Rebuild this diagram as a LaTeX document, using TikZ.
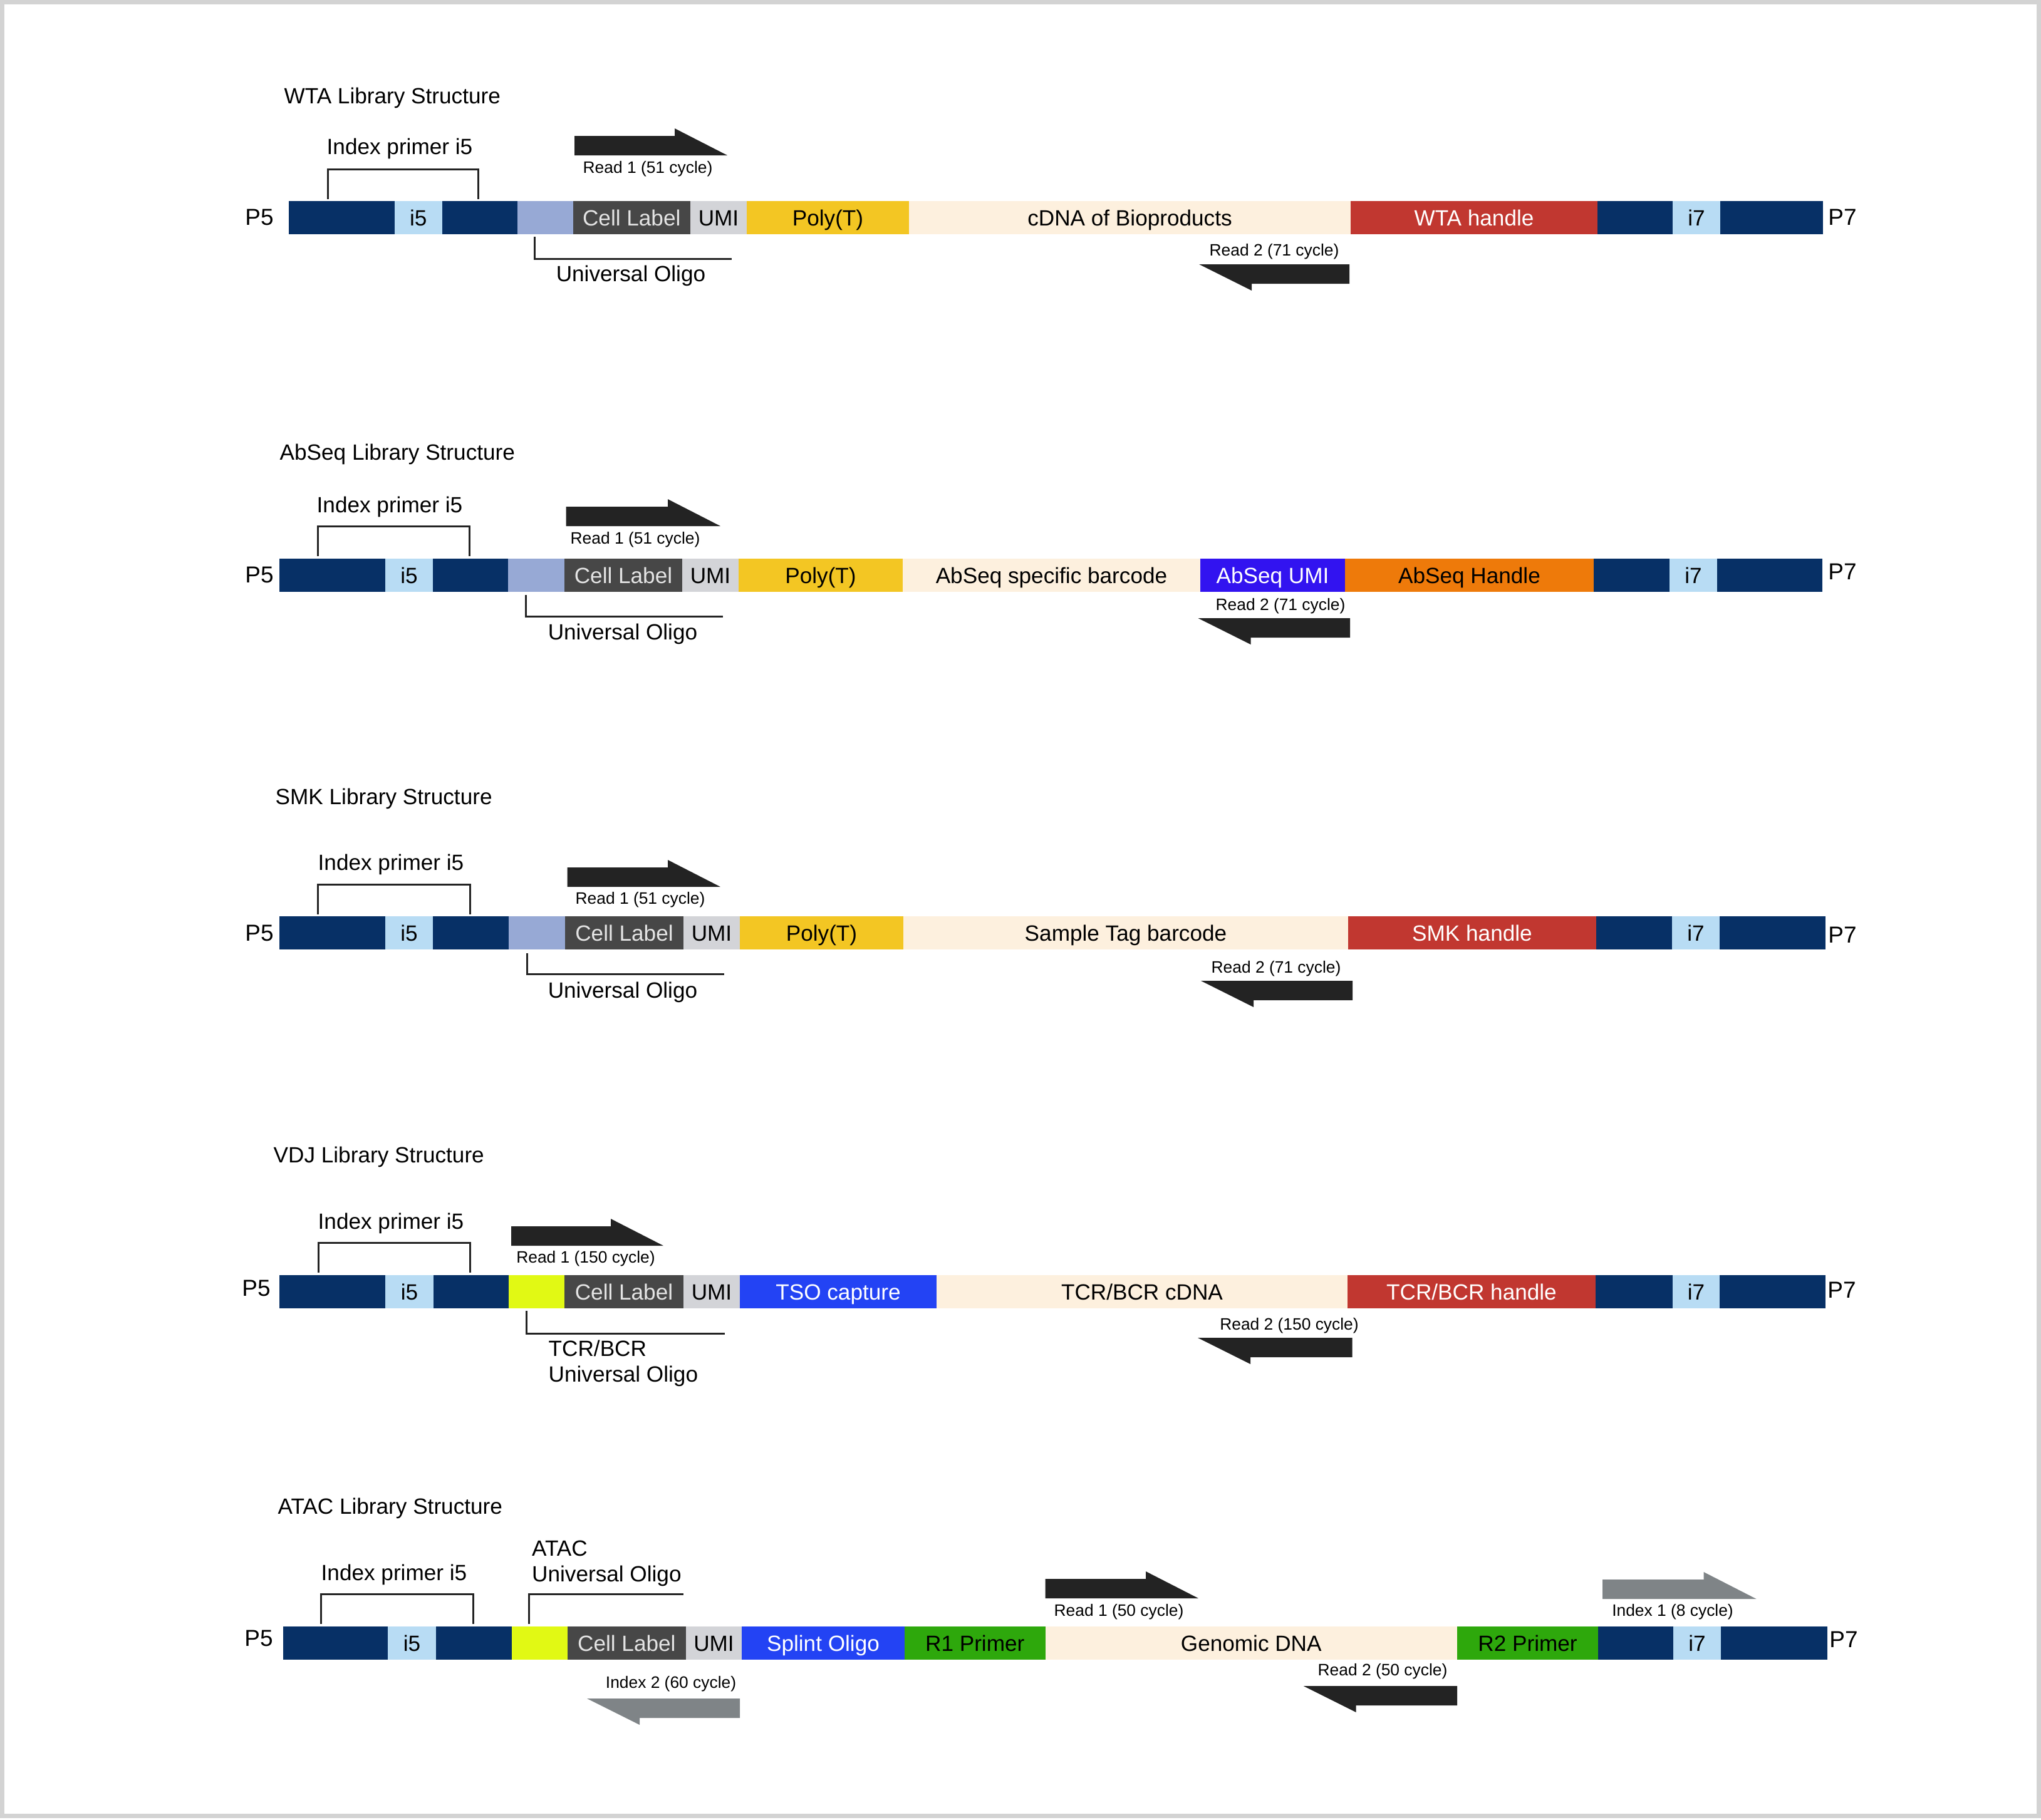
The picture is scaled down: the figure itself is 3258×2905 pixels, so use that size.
\documentclass[tikz,border=0pt]{standalone}
\usepackage{fontspec}
\setmainfont{Liberation Sans}

\definecolor{navy}{HTML}{073066}
\definecolor{idxblue}{HTML}{B8DCF4}
\definecolor{uoblue}{HTML}{97A9D5}
\definecolor{clgray}{HTML}{474747}
\definecolor{cltext}{HTML}{E4E4E4}
\definecolor{umigray}{HTML}{D3D4D8}
\definecolor{polyt}{HTML}{F3C623}
\definecolor{cream}{HTML}{FDF0DE}
\definecolor{handlered}{HTML}{C13730}
\definecolor{absviolet}{HTML}{3213F0}
\definecolor{absorange}{HTML}{EE7A0A}
\definecolor{limeoligo}{HTML}{E1F914}
\definecolor{tsoblue}{HTML}{2343F4}
\definecolor{primgreen}{HTML}{2EA80C}
\definecolor{arrblack}{HTML}{232323}
\definecolor{arrgray}{HTML}{7F8487}
\definecolor{framegray}{HTML}{D3D3D3}

% one coloured block of a library bar: name, left, right, options, text
\newcommand{\seg}[5]{\node[seg,#4,minimum width={(#3-#2)*0.01cm}] (#1) at ({(#2+#3)/2},\rowy) {#5};}
% read arrows: colour, tail, tip, bottom (fwd) / top (rev)
\newcommand{\fwdarr}[4]{\fill[#1] (#2,#4) -- (#2,{#4-31}) -- ({#3-84},{#4-31}) -- ({#3-84},{#4-43}) -- (#3,#4) -- cycle;}
\newcommand{\revarr}[4]{\fill[#1] (#2,#4) -- (#3,#4) -- ({#3+84},{#4+42}) -- ({#3+84},{#4+31}) -- (#2,{#4+31}) -- cycle;}

\begin{document}
\begin{tikzpicture}[x=0.01cm,y=-0.01cm,
    seg/.style={draw=none,inner sep=0pt,outer sep=0pt,minimum height=0.53cm,
      text height=7.2pt,text depth=0pt,font=\fontsize{10}{12}\selectfont},
    lbl/.style={inner sep=0pt,font=\fontsize{10}{12}\selectfont},
    lbltwo/.style={inner sep=0pt,anchor=west,align=left,font=\fontsize{10}{11.6}\selectfont},
    title/.style={inner sep=0pt,anchor=west,font=\fontsize{10}{12}\selectfont},
    pnode/.style={inner sep=0pt,font=\fontsize{10.5}{12}\selectfont},
    small/.style={inner sep=0pt,font=\fontsize{7.5}{9}\selectfont},
    brk/.style={line width=0.03cm,draw=arrblack}]
    \useasboundingbox (0,0) rectangle (3258,2905);
    \draw[framegray,line width=0.07cm] (3.5,3.5) rectangle (3254.5,2899.5);

    % WTA
    \def\rowy{347.5}
    \node[title] (r1title) at (453,156) {WTA Library Structure};
    \node[pnode] (r1p5) at (414,347) {P5};
    \seg{r1a}{461}{630}{fill=navy}{}
    \seg{r1i5}{630}{705.5}{fill=idxblue}{i5}
    \seg{r1b}{705.5}{825.5}{fill=navy}{}
    \seg{r1uo}{825.5}{914.5}{fill=uoblue}{}
    \seg{r1cl}{914.5}{1102}{fill=clgray,text=cltext}{Cell Label}
    \seg{r1umi}{1102}{1192}{fill=umigray}{UMI}
    \seg{r1pt}{1192}{1451}{fill=polyt}{Poly(T)}
    \seg{r1cd}{1451}{2156}{fill=cream}{cDNA of Bioproducts}
    \seg{r1hd}{2156}{2550}{fill=handlered,text=white}{WTA handle}
    \seg{r1c}{2550}{2670}{fill=navy}{}
    \seg{r1i7}{2670}{2746}{fill=idxblue}{i7}
    \seg{r1d}{2746}{2910}{fill=navy}{}
    \node[pnode] (r1p7) at (2941,347) {P7};
    \coordinate (r1ia) at (523,318); \coordinate (r1ib) at (763,318);
    \draw[brk] (r1ia) -- ++(0,-48) -| (r1ib);
    \node[lbl] (r1idx) at (638,237) {Index primer i5};
    \coordinate (r1ua) at (853,378); \coordinate (r1ub) at (1168,413);
    \draw[brk] (r1ua) |- (r1ub);
    \node[lbl] (r1uol) at (1007,440) {Universal Oligo};
    \fwdarr{arrblack}{917}{1161}{248}
    \node[small] (r1rd1) at (1034,270) {Read 1 (51 cycle)};
    \revarr{arrblack}{2154}{1914}{422}
    \node[small] (r1rd2) at (2034,402) {Read 2 (71 cycle)};

    % AbSeq
    \def\rowy{918.5}
    \node[title] (r2title) at (446,725) {AbSeq Library Structure};
    \node[pnode] (r2p5) at (414,918) {P5};
    \seg{r2a}{446}{615}{fill=navy}{}
    \seg{r2i5}{615}{691}{fill=idxblue}{i5}
    \seg{r2b}{691}{811}{fill=navy}{}
    \seg{r2uo}{811}{901}{fill=uoblue}{}
    \seg{r2cl}{901}{1089}{fill=clgray,text=cltext}{Cell Label}
    \seg{r2umi}{1089}{1179}{fill=umigray}{UMI}
    \seg{r2pt}{1179}{1441}{fill=polyt}{Poly(T)}
    \seg{r2bc}{1441}{1916}{fill=cream}{AbSeq specific barcode}
    \seg{r2au}{1916}{2147}{fill=absviolet,text=white}{AbSeq UMI}
    \seg{r2ah}{2147}{2544}{fill=absorange}{AbSeq Handle}
    \seg{r2c}{2544}{2665}{fill=navy}{}
    \seg{r2i7}{2665}{2741}{fill=idxblue}{i7}
    \seg{r2d}{2741}{2909}{fill=navy}{}
    \node[pnode] (r2p7) at (2941,913) {P7};
    \coordinate (r2ia) at (507.5,888); \coordinate (r2ib) at (749,888);
    \draw[brk] (r2ia) -- ++(0,-48) -| (r2ib);
    \node[lbl] (r2idx) at (622,809) {Index primer i5};
    \coordinate (r2ua) at (839,950); \coordinate (r2ub) at (1153.5,984);
    \draw[brk] (r2ua) |- (r2ub);
    \node[lbl] (r2uol) at (994,1012) {Universal Oligo};
    \fwdarr{arrblack}{903.5}{1150}{840}
    \node[small] (r2rd1) at (1014,862) {Read 1 (51 cycle)};
    \revarr{arrblack}{2155}{1912.5}{987}
    \node[small] (r2rd2) at (2044,968) {Read 2 (71 cycle)};

    % SMK
    \def\rowy{1489.5}
    \node[title] (r3title) at (439,1275) {SMK Library Structure};
    \node[pnode] (r3p5) at (414,1490) {P5};
    \seg{r3a}{446}{615}{fill=navy}{}
    \seg{r3i5}{615}{691}{fill=idxblue}{i5}
    \seg{r3b}{691}{811.6}{fill=navy}{}
    \seg{r3uo}{811.6}{902}{fill=uoblue}{}
    \seg{r3cl}{902}{1091}{fill=clgray,text=cltext}{Cell Label}
    \seg{r3umi}{1091}{1181}{fill=umigray}{UMI}
    \seg{r3pt}{1181}{1442}{fill=polyt}{Poly(T)}
    \seg{r3st}{1442}{2152}{fill=cream}{Sample Tag barcode}
    \seg{r3hd}{2152}{2548}{fill=handlered,text=white}{SMK handle}
    \seg{r3c}{2548}{2669}{fill=navy}{}
    \seg{r3i7}{2669}{2745}{fill=idxblue}{i7}
    \seg{r3d}{2745}{2914}{fill=navy}{}
    \node[pnode] (r3p7) at (2941,1493) {P7};
    \coordinate (r3ia) at (507.5,1460); \coordinate (r3ib) at (750,1460);
    \draw[brk] (r3ia) -- ++(0,-48) -| (r3ib);
    \node[lbl] (r3idx) at (624,1380) {Index primer i5};
    \coordinate (r3ua) at (841,1522); \coordinate (r3ub) at (1155.5,1555);
    \draw[brk] (r3ua) |- (r3ub);
    \node[lbl] (r3uol) at (994,1584) {Universal Oligo};
    \fwdarr{arrblack}{905.5}{1150}{1416}
    \node[small] (r3rd1) at (1022,1437) {Read 1 (51 cycle)};
    \revarr{arrblack}{2159}{1917}{1566}
    \node[small] (r3rd2) at (2037,1547) {Read 2 (71 cycle)};

    % VDJ
    \def\rowy{2062.5}
    \node[title] (r4title) at (436,1847) {VDJ Library Structure};
    \node[pnode] (r4p5) at (409,2057) {P5};
    \seg{r4a}{446}{615}{fill=navy}{}
    \seg{r4i5}{615}{692}{fill=idxblue}{i5}
    \seg{r4b}{692}{812}{fill=navy}{}
    \seg{r4uo}{812}{901}{fill=limeoligo}{}
    \seg{r4cl}{901}{1091}{fill=clgray,text=cltext}{Cell Label}
    \seg{r4umi}{1091}{1181}{fill=umigray}{UMI}
    \seg{r4ts}{1181}{1495}{fill=tsoblue,text=white}{TSO capture}
    \seg{r4cd}{1495}{2151}{fill=cream}{TCR/BCR cDNA}
    \seg{r4hd}{2151}{2547}{fill=handlered,text=white}{TCR/BCR handle}
    \seg{r4c}{2547}{2670}{fill=navy}{}
    \seg{r4i7}{2670}{2745}{fill=idxblue}{i7}
    \seg{r4d}{2745}{2914}{fill=navy}{}
    \node[pnode] (r4p7) at (2940,2060) {P7};
    \coordinate (r4ia) at (508,2032); \coordinate (r4ib) at (750,2032);
    \draw[brk] (r4ia) -- ++(0,-48) -| (r4ib);
    \node[lbl] (r4idx) at (624,1953) {Index primer i5};
    \coordinate (r4ua) at (840,2093); \coordinate (r4ub) at (1157,2129);
    \draw[brk] (r4ua) |- (r4ub);
    \node[lbltwo] (r4uol) at (875,2177) {TCR/BCR\\Universal Oligo};
    \fwdarr{arrblack}{816}{1059}{1989}
    \node[small] (r4rd1) at (935,2010) {Read 1 (150 cycle)};
    \revarr{arrblack}{2158.6}{1912}{2136}
    \node[small] (r4rd2) at (2058,2117) {Read 2 (150 cycle)};

    % ATAC
    \def\rowy{2623.5}
    \node[title] (r5title) at (443,2408) {ATAC Library Structure};
    \node[pnode] (r5p5) at (413,2616) {P5};
    \seg{r5a}{452}{619}{fill=navy}{}
    \seg{r5i5}{619}{696}{fill=idxblue}{i5}
    \seg{r5b}{696}{817}{fill=navy}{}
    \seg{r5uo}{817}{905.7}{fill=limeoligo}{}
    \seg{r5cl}{905.7}{1095}{fill=clgray,text=cltext}{Cell Label}
    \seg{r5umi}{1095}{1184}{fill=umigray}{UMI}
    \seg{r5sp}{1184}{1444}{fill=tsoblue,text=white}{Splint Oligo}
    \seg{r5r1}{1444}{1668.5}{fill=primgreen}{R1 Primer}
    \seg{r5gd}{1668.5}{2326}{fill=cream}{Genomic DNA}
    \seg{r5r2}{2326}{2551}{fill=primgreen}{R2 Primer}
    \seg{r5c}{2551}{2671}{fill=navy}{}
    \seg{r5i7}{2671}{2747}{fill=idxblue}{i7}
    \seg{r5d}{2747}{2917}{fill=navy}{}
    \node[pnode] (r5p7) at (2943,2618) {P7};
    \coordinate (r5ia) at (512.7,2593); \coordinate (r5ib) at (755.6,2593);
    \draw[brk] (r5ia) -- ++(0,-48) -| (r5ib);
    \node[lbl] (r5idx) at (629,2514) {Index primer i5};
    \coordinate (r5ua) at (844,2593); \coordinate (r5ub) at (1091.4,2545);
    \draw[brk] (r5ua) |- (r5ub);
    \node[lbltwo] (r5uol) at (848.5,2496) {ATAC\\Universal Oligo};
    \revarr{arrgray}{1181}{937}{2712}
    \node[small] (r5ix2) at (1071,2689) {Index 2 (60 cycle)};
    \fwdarr{arrblack}{1668.5}{1913}{2552}
    \node[small] (r5rd1) at (1786,2574) {Read 1 (50 cycle)};
    \revarr{arrblack}{2326}{2080.6}{2692}
    \node[small] (r5rd2) at (2207,2669) {Read 2 (50 cycle)};
    \fwdarr{arrgray}{2558}{2803.6}{2553}
    \node[small] (r5ix1) at (2670,2574) {Index 1 (8 cycle)};
\end{tikzpicture}
\end{document}
